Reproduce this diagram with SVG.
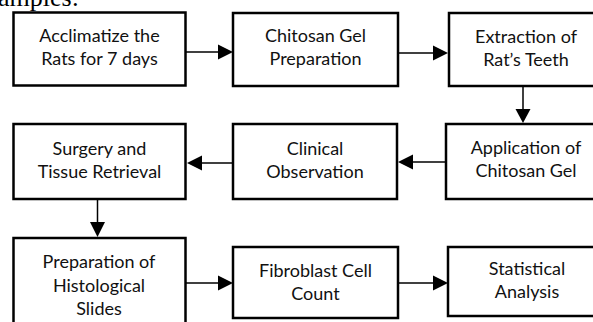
<svg xmlns="http://www.w3.org/2000/svg" width="593" height="322" viewBox="0 0 593 322">
<defs>
<style>
.box{fill:#fff;stroke:#000;stroke-width:2.5}
.lbl{font-family:Lato,"Open Sans",sans-serif;font-size:18px;fill:#111;text-anchor:middle}
.con{stroke:#000;stroke-width:1.5;fill:none}
.head{fill:#000}
.top{font-family:"Liberation Serif",serif;font-size:26px;fill:#000}
</style>
</defs>
<rect width="593" height="322" fill="#fff"/>
<text class="top" x="-2" y="6">amples:</text>
<g id="n1"><rect class="box" x="13.5" y="12.5" width="172" height="73"/><text class="lbl" x="99.5" y="42">Acclimatize the</text><text class="lbl" x="99.5" y="65">Rats for 7 days</text></g>
<g id="n2"><rect class="box" x="233" y="13" width="165" height="73"/><text class="lbl" x="315.5" y="42">Chitosan Gel</text><text class="lbl" x="315.5" y="65">Preparation</text></g>
<g id="n3"><rect class="box" x="449" y="13" width="154" height="73"/><text class="lbl" x="526" y="43">Extraction of</text><text class="lbl" x="526" y="66">Rat’s Teeth</text></g>
<g id="n4"><rect class="box" x="13.5" y="124" width="172" height="75"/><text class="lbl" x="99.5" y="155">Surgery and</text><text class="lbl" x="99.5" y="178">Tissue Retrieval</text></g>
<g id="n5"><rect class="box" x="233" y="124" width="164" height="75"/><text class="lbl" x="315" y="155">Clinical</text><text class="lbl" x="315" y="178">Observation</text></g>
<g id="n6"><rect class="box" x="446" y="124" width="160" height="75"/><text class="lbl" x="526" y="154">Application of</text><text class="lbl" x="526" y="177">Chitosan Gel</text></g>
<g id="n7"><rect class="box" x="13.5" y="238" width="172" height="95"/><text class="lbl" x="99" y="268">Preparation of</text><text class="lbl" x="99" y="292">Histological</text><text class="lbl" x="99" y="315">Slides</text></g>
<g id="n8"><rect class="box" x="233" y="247" width="165" height="71"/><text class="lbl" x="315.5" y="277">Fibroblast Cell</text><text class="lbl" x="315.5" y="300">Count</text></g>
<g id="n9"><rect class="box" x="448" y="247" width="158" height="69"/><text class="lbl" x="527" y="275">Statistical</text><text class="lbl" x="527" y="298">Analysis</text></g>
<g id="connectors">
<line class="con" x1="186" y1="52" x2="219" y2="52"/><polygon class="head" points="218,44.5 233,52 218,59.5"/>
<line class="con" x1="398" y1="53" x2="434" y2="53"/><polygon class="head" points="433,45.5 448,53 433,60.5"/>
<line class="con" x1="523" y1="86" x2="523" y2="110"/><polygon class="head" points="515.5,109 530.5,109 523,123"/>
<line class="con" x1="446" y1="162" x2="412" y2="162"/><polygon class="head" points="413,154.5 413,169.5 398,162"/>
<line class="con" x1="233" y1="163" x2="201" y2="163"/><polygon class="head" points="202,155.5 202,170.5 187,163"/>
<line class="con" x1="97.5" y1="199" x2="97.5" y2="223"/><polygon class="head" points="90,222 105,222 97.5,237"/>
<line class="con" x1="186" y1="283" x2="219" y2="283"/><polygon class="head" points="218,275.5 233,283 218,290.5"/>
<line class="con" x1="398" y1="283" x2="434" y2="283"/><polygon class="head" points="433,275.5 448,283 433,290.5"/>
</g>
</svg>
